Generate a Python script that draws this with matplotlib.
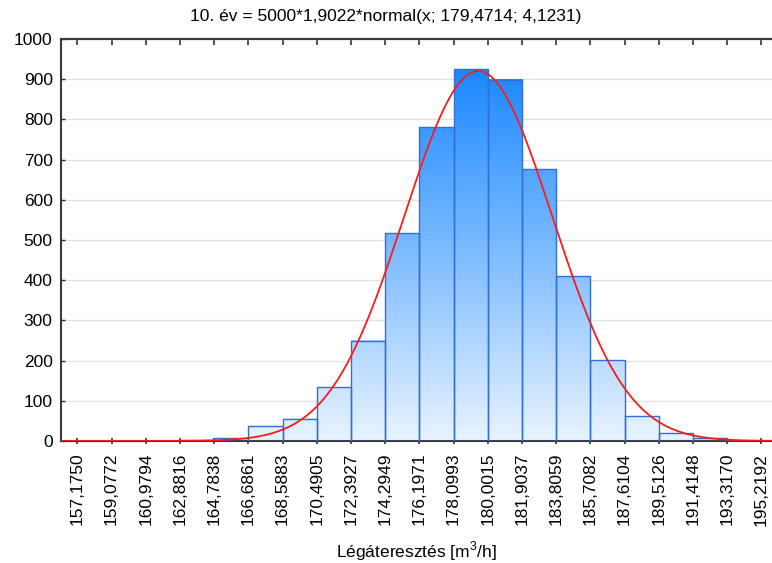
import numpy as np
import matplotlib
matplotlib.use("Agg")
import matplotlib.pyplot as plt
from matplotlib.colors import LinearSegmentedColormap

plt.rcParams["font.family"] = ["Liberation Sans", "DejaVu Sans"]
plt.rcParams["mathtext.fontset"] = "custom"
plt.rcParams["mathtext.rm"] = "Liberation Sans"

# histogram data: 20 bins between the class boundaries below
N_TOTAL = 5000
BIN_WIDTH = 1.9022
MEAN = 179.4714
STD = 4.1231
edge_labels = [
    "157,1750", "159,0772", "160,9794", "162,8816", "164,7838", "166,6861",
    "168,5883", "170,4905", "172,3927", "174,2949", "176,1971", "178,0993",
    "180,0015", "181,9037", "183,8059", "185,7082", "187,6104", "189,5126",
    "191,4148", "193,3170", "195,2192",
]
counts = [0, 0, 0, 2, 7, 37, 55, 134, 250, 517, 780, 925, 899, 676, 410, 201, 62, 19, 8, 1]
y_ticks = list(range(0, 1001, 100))

TITLE = "10. év = 5000*1,9022*normal(x; 179,4714; 4,1231)"
XLABEL = "Légáteresztés [m$^3$/h]"

edges = np.array([float(s.replace(",", ".")) for s in edge_labels])
widths = np.diff(edges)

cmap = LinearSegmentedColormap.from_list(
    "bars", [(0.0, "#e8f3ff"), (0.5, "#76b8ff"), (0.93, "#1a88ff"), (1.0, "#1582ff")]
)

fig = plt.figure(figsize=(7.72, 5.63), dpi=100)
ax = fig.add_axes([61 / 772, 122 / 563, 711 / 772, 402 / 563])

ax.yaxis.grid(True, color="#e2e2e2", linewidth=1.0, zorder=0)
ax.set_axisbelow(True)

# gradient fill for each bar, shade depends on absolute height
for x0, w, h in zip(edges[:-1], widths, counts):
    if h <= 0:
        continue
    grad = np.linspace(0, h, 256)[:, None]
    ax.imshow(grad, extent=(x0, x0 + w, 0, h), origin="lower",
              cmap=cmap, vmin=0, vmax=1000, aspect="auto", zorder=2,
              interpolation="bilinear")
ax.bar(edges[:-1], counts, width=widths, align="edge", fill=False,
       edgecolor="#2f6fd6", linewidth=1.0, zorder=3)

# fitted normal curve
xs = np.linspace(edges[0] - 1.0, edges[-1] + 0.6, 600)
ys = N_TOTAL * BIN_WIDTH * np.exp(-0.5 * ((xs - MEAN) / STD) ** 2) / (STD * np.sqrt(2 * np.pi))
ax.plot(xs, ys, color="#ff1a1a", linewidth=1.3, zorder=4)

ax.set_xlim(156.268, 195.81)
ax.set_ylim(0, 1000)
ax.set_xticks(edges)
ax.set_xticklabels(edge_labels, rotation=90, fontsize=12.5)
ax.set_yticks(y_ticks)
ax.set_yticklabels([str(v) for v in y_ticks], fontsize=12.5)

ax.tick_params(axis="x", direction="inout", length=5, width=1.2, color="#333333", pad=6)
ax.tick_params(axis="y", direction="in", length=3, width=1.0, color="#333333", pad=6)

# inward ticks along the top frame
top = ax.secondary_xaxis("top")
top.set_xticks(edges)
top.set_xticklabels([])
top.tick_params(direction="in", length=4, width=1.2, color="#333333")
top.spines["top"].set_color("#3a3a3a")
top.spines["top"].set_linewidth(1.5)

for side in ("left", "bottom", "top"):
    ax.spines[side].set_color("#3a3a3a")
    ax.spines[side].set_linewidth(1.5)
ax.spines["right"].set_visible(False)

fig.text(0.5, 1 - 17 / 563, TITLE, fontsize=12.5, ha="center", va="center")
ax.set_xlabel(XLABEL, fontsize=12.5, labelpad=10)

fig.savefig("out.png", dpi=100)
